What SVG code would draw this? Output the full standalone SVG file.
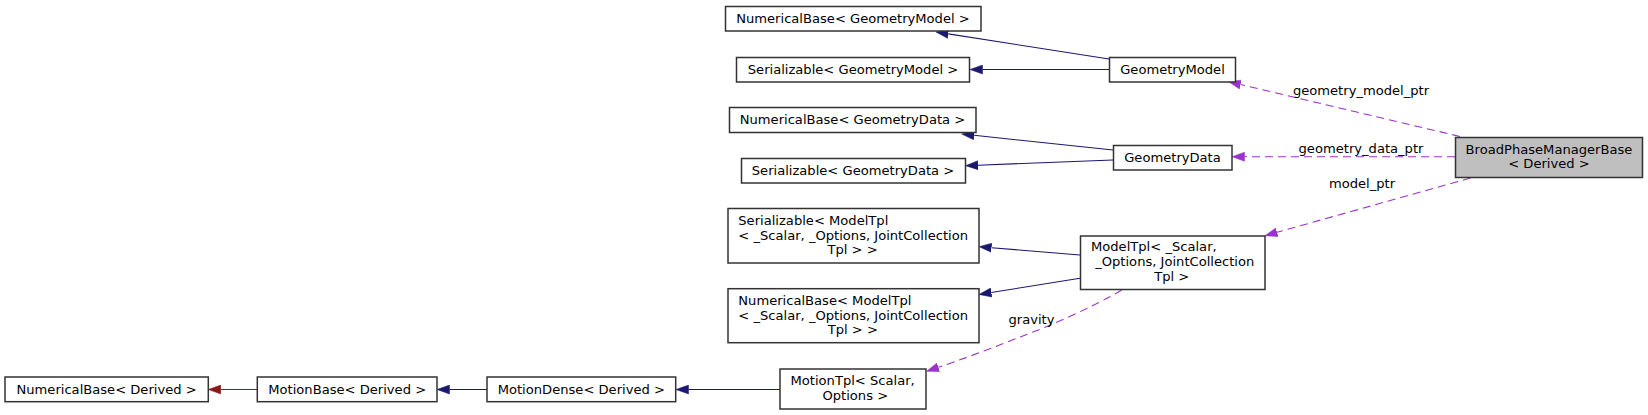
<svg xmlns="http://www.w3.org/2000/svg" width="1648" height="415" viewBox="0 0 1648 415">
<style>
.box{fill:#ffffff;stroke:#333333;stroke-width:1.5}
.main{fill:#bfbfbf;stroke:#333333;stroke-width:1.5}
text{font-family:"DejaVu Sans","Liberation Sans",sans-serif;font-size:13.1px;fill:#000}
.c{text-anchor:middle}
.inh{fill:none;stroke:#191970;stroke-width:1.1}
.red{fill:none;stroke:#8b1a1a;stroke-width:1.1}
.use{fill:none;stroke:#9a32cd;stroke-width:1.1;stroke-dasharray:8,5}
</style>
<defs>
<marker id="aNavy" markerUnits="userSpaceOnUse" markerWidth="13" markerHeight="10" viewBox="0 -5 13 10" refX="0" refY="0" orient="auto"><path d="M0,-4.5 L12.5,0 L0,4.5 Z" fill="#191970" stroke="#191970" stroke-width="0.5"/></marker>
<marker id="aRed" markerUnits="userSpaceOnUse" markerWidth="13" markerHeight="10" viewBox="0 -5 13 10" refX="0" refY="0" orient="auto"><path d="M0,-4.5 L12.5,0 L0,4.5 Z" fill="#8b1a1a" stroke="#8b1a1a" stroke-width="0.5"/></marker>
<marker id="aPurple" markerUnits="userSpaceOnUse" markerWidth="13" markerHeight="10" viewBox="0 -5 13 10" refX="0" refY="0" orient="auto"><path d="M0,-4.5 L12.5,0 L0,4.5 Z" fill="#9a32cd" stroke="#9a32cd" stroke-width="0.5"/></marker>
</defs>

<g id="connectors">
<path class="inh" d="M1109,59 L948.3,33.9" marker-end="url(#aNavy)"/>
<path class="inh" d="M1109,69.5 L982.5,69.5" marker-end="url(#aNavy)"/>
<path class="inh" d="M1113,150 L974.1,135.3" marker-end="url(#aNavy)"/>
<path class="inh" d="M1113,160 L978,165.2" marker-end="url(#aNavy)"/>
<path class="inh" d="M1080,255 L991.5,247.7" marker-end="url(#aNavy)"/>
<path class="inh" d="M1080,278.3 L991.3,292.5" marker-end="url(#aNavy)"/>
<path class="inh" d="M780,389.5 L688.5,389.5" marker-end="url(#aNavy)"/>
<path class="inh" d="M487,389.5 L449.5,389.5" marker-end="url(#aNavy)"/>
<path class="red" d="M257,389.5 L220.8,389.5" marker-end="url(#aRed)"/>
<path class="use" d="M1460,136.5 L1240.5,84.5" marker-end="url(#aPurple)"/>
<text class="c" x="1361" y="94.5">geometry_model_ptr</text>
<path class="use" d="M1455,156.7 L1244.5,156.7" marker-end="url(#aPurple)"/>
<text class="c" x="1361" y="153.3">geometry_data_ptr</text>
<path class="use" d="M1470.5,178 L1277,232.3" marker-end="url(#aPurple)"/>
<text class="c" x="1362" y="188">model_ptr</text>
<path class="use" d="M1121.7,290 C1095,306 1050,326 1020,337 C990,349 960,360 938.4,367.3" marker-end="url(#aPurple)"/>
<text class="c" x="1031.5" y="323.5">gravity</text>
</g>

<g id="node_broadphase">
<rect class="main" x="1455.5" y="137.5" width="187" height="40"/>
<text class="c" x="1549" y="153.5">BroadPhaseManagerBase</text>
<text class="c" x="1549" y="168">&lt; Derived &gt;</text>
</g>
<g id="node_geometrymodel">
<rect class="box" x="1109.5" y="57.5" width="126" height="24.5"/>
<text class="c" x="1172.5" y="74">GeometryModel</text>
</g>
<g id="node_numbase_geommodel">
<rect class="box" x="725.5" y="6.5" width="255.5" height="24.5"/>
<text class="c" x="853" y="23">NumericalBase&lt; GeometryModel &gt;</text>
</g>
<g id="node_serial_geommodel">
<rect class="box" x="736.5" y="57.5" width="233" height="24.5"/>
<text class="c" x="853" y="74">Serializable&lt; GeometryModel &gt;</text>
</g>
<g id="node_geometrydata">
<rect class="box" x="1113.5" y="145.5" width="118.5" height="24.5"/>
<text class="c" x="1172.5" y="162">GeometryData</text>
</g>
<g id="node_numbase_geomdata">
<rect class="box" x="729.5" y="107.5" width="246.5" height="25"/>
<text class="c" x="852.5" y="124.2">NumericalBase&lt; GeometryData &gt;</text>
</g>
<g id="node_serial_geomdata">
<rect class="box" x="741.5" y="158.5" width="224" height="24.5"/>
<text class="c" x="853" y="175">Serializable&lt; GeometryData &gt;</text>
</g>
<g id="node_modeltpl">
<rect class="box" x="1080.5" y="236" width="184.5" height="53.5"/>
<text x="1091" y="251.2">ModelTpl&lt; _Scalar,</text>
<text x="1095.2" y="266.2">_Options, JointCollection</text>
<text class="c" x="1171.7" y="281.2">Tpl &gt;</text>
</g>
<g id="node_serial_modeltpl">
<rect class="box" x="728" y="208.5" width="251" height="54.5"/>
<text x="738.3" y="225.2">Serializable&lt; ModelTpl</text>
<text x="738.3" y="239.6">&lt; _Scalar, _Options, JointCollection</text>
<text class="c" x="852.5" y="254.4">Tpl &gt; &gt;</text>
</g>
<g id="node_numbase_modeltpl">
<rect class="box" x="728" y="288.7" width="251" height="54"/>
<text x="738.3" y="305.2">NumericalBase&lt; ModelTpl</text>
<text x="738.3" y="319.6">&lt; _Scalar, _Options, JointCollection</text>
<text class="c" x="852.8" y="334.4">Tpl &gt; &gt;</text>
</g>
<g id="node_motiontpl">
<rect class="box" x="780" y="369" width="146" height="40"/>
<text x="790.5" y="384.5">MotionTpl&lt; Scalar,</text>
<text class="c" x="855.3" y="400">Options &gt;</text>
</g>
<g id="node_motiondense">
<rect class="box" x="487" y="377" width="188.7" height="24.7"/>
<text class="c" x="581.3" y="394">MotionDense&lt; Derived &gt;</text>
</g>
<g id="node_motionbase">
<rect class="box" x="257.3" y="377" width="179.7" height="24.7"/>
<text class="c" x="347.2" y="394">MotionBase&lt; Derived &gt;</text>
</g>
<g id="node_numbase_derived">
<rect class="box" x="5" y="377" width="203.3" height="24.7"/>
<text class="c" x="106.6" y="394">NumericalBase&lt; Derived &gt;</text>
</g>
</svg>
